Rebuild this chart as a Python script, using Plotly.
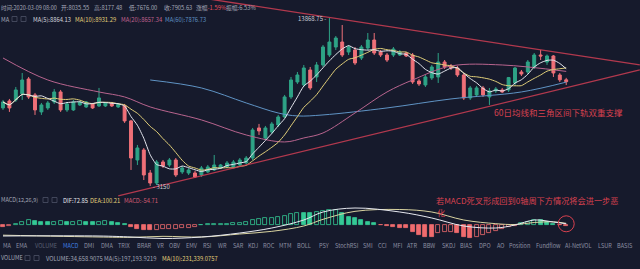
import numpy as np
import pandas as pd
import plotly.graph_objects as go

W, H = 640, 269
BG = "#161a2c"
UP = "#2ea386"
DOWN = "#ef7078"
FONT = "Noto Sans CJK SC, Noto Sans, sans-serif"

# ---- weekly BTC candles, 2018-07-02 .. 2020-03-09 ----
dates = pd.date_range("2018-07-02", periods=89, freq="7D")

opens = [6271, 6670, 6730, 7100, 8098, 7033, 6055, 6271, 6612, 7221,
         6162, 6162, 6439, 6327, 6496, 6383, 6383, 6554, 6327, 6383,
         5592, 3962, 4328, 3533, 3233, 3893, 3791, 3962, 3565, 3533,
         3533, 3471, 3565, 3628, 3693, 3725, 3725, 3791, 3859, 4032,
         5256, 4812, 5074, 5397, 5793, 6910, 7887, 7681, 8767, 8243,
         9162, 10006, 10737, 11222, 10274, 10457, 9745, 10643, 11421, 10274,
         10006, 10006, 10006, 10184, 10006, 7956, 7681, 8170, 8243, 9407,
         9081, 8923, 8389, 6849, 7033, 7481, 6910, 7285, 7350, 7350,
         7818, 8614, 8614, 9002, 10006, 9400, 9920, 8389, 8035.55]
highs = [6730, 6789, 7547, 8538, 8243, 7158, 6554, 6670, 7415, 7350,
         6612, 6730, 6670, 6670, 6554, 7481, 6612, 6612, 6554, 6496,
         5642, 4523, 4405, 3628, 3962, 3962, 4032, 4032, 3758, 3693,
         3597, 3758, 3791, 4141, 3825, 3927, 3962, 4032, 4104, 5256,
         5445, 5350, 5543, 5896, 7033, 8243, 8614, 9162, 9002, 9407,
         10929, 13868.75, 11831, 13039, 10929, 10737, 10929, 12148, 12148, 10457,
         10184, 10737, 10457, 10274, 10184, 8098, 8389, 9162, 10184, 9574,
         9243, 9081, 8538, 7614, 7614, 7614, 7481, 7547, 7481, 8243,
         9000, 8767, 9574, 10184, 10457, 10050, 10000, 8538, 8177.48]
lows = [6162, 6055, 6612, 6730, 6789, 5896, 5896, 6162, 6496, 6055,
        6055, 6108, 6383, 6271, 6216, 6327, 6327, 6327, 6271, 5494,
        3628, 3791, 3320, 3150, 3177, 3693, 3725, 3411, 3502, 3471,
        3381, 3411, 3533, 3597, 3660, 3693, 3693, 3758, 3825, 3962,
        4941, 4727, 4985, 5303, 5742, 6789, 7749, 7547, 7350, 7887,
        9002, 9831, 10457, 9831, 10006, 9162, 9574, 10457, 10006, 9831,
        9407, 9831, 9918, 9831, 7749, 7614, 7547, 8027, 7818, 8845,
        8767, 8243, 6730, 6730, 6910, 6910, 6439, 7158, 7158, 7221,
        7681, 8316, 8463, 8845, 9574, 9162, 8243, 7887, 7676.00]
closes = [6612, 6271, 7350, 8027, 6910, 6162, 6439, 6554, 7221, 6162,
          6496, 6612, 6612, 6612, 6271, 6849, 6554, 6383, 6496, 5592,
          4032, 4405, 3471, 3233, 3893, 3758, 3962, 3471, 3693, 3628,
          3411, 3693, 3725, 3791, 3791, 3859, 3893, 3962, 4032, 5164,
          5119, 5256, 5445, 5793, 6910, 8027, 8389, 8923, 7481, 9162,
          10737, 11222, 11624, 10006, 10737, 9325, 10737, 11421, 10184, 10006,
          9574, 10549, 10274, 9918, 7887, 7749, 8243, 9002, 9407, 9002,
          8923, 8389, 6849, 7481, 7481, 7033, 7285, 7415, 7221, 8200,
          8916.26, 8463, 9407, 10006, 9920, 9920, 8539.47, 8035.55, 7905.63]

# longer moving averages (candle index, price)
ma20_idx = [0, 7, 15, 19, 23, 31, 38, 44, 47, 50, 55, 60, 64, 70, 78, 88]
ma20_val = [9745, 8027, 7221, 6910, 6327, 5642, 4941, 4645, 4812, 5029,
            5998, 7221, 8027, 9081, 9162, 8657.34]
ma60_idx = [23, 31, 38, 43, 46, 50, 60, 70, 81, 88]
ma60_val = [8027, 7481, 6554, 5998, 5844, 5896, 6271, 6789, 7221, 7876.73]

# triangle trendlines (candle index, price)
upper_idx = [31, 99.5]
upper_val = [16560, 9162]
lower_idx = [18, 99.5]
lower_val = [2884, 8767]

# ---- MACD(12,26,9) ----
macd_hist = [-100, -60, 60, 200, 300, 250, 200, 180, 200, 220,
             180, 200, 220, 200, 180, 200, 220, 180, 150, 60,
             -120, -250, -300, -320, -300, -260, -240, -220, -200, -170,
             -130, 20, 40, 50, 60, 70, 100, 150, 200, 300,
             350, 400, 450, 500, 560, 650, 750, 720, 700, 780,
             850, 900, 920, 720, 500, 400, 300, 200, 100, -20,
             -50, -100, -150, -200, -400, -600, -700, -720, -500, -420,
             -400, -480, -700, -780, -700, -600, -500, -380, -250, -120,
             -30, 100, 200, 300, 280, 200, 80, -10, -54.71]
dif_idx = [0, 15, 20, 25, 31, 37, 42, 47, 50, 55, 62, 67, 72, 77, 80, 83, 86, 88]
dif_val = [-660, -660, -720, -810, -720, -480, -180, 300, 780, 1020,
           780, 420, -60, -180, 0, 300, 180, 72.85]
dea_val = [-610, -720, -740, -680, -720, -540, -380, -60, 340, 820,
           930, 780, 300, 80, 30, 150, 190, 100.21]

tabs = ["MA", "EMA", "VOLUME", "MACD", "DMI", "DMA", "TRIX", "BRAR", "VR", "OBV",
        "EMV", "RSI", "WR", "SAR", "KDJ", "ROC", "MTM", "BOLL", "PSY", "StochRSI",
        "SMI", "CCI", "MFI", "ATR", "BBW", "SKDJ", "BIAS", "DPO", "AO", "Position",
        "Fundflow", "AI-NetVOL", "LSUR", "BASIS"]

# ---------------------------------------------------------------------------
idx = np.arange(len(closes))
close_s = pd.Series(closes, dtype=float)
ma5 = close_s.rolling(5, min_periods=1).mean()
ma10 = close_s.rolling(10, min_periods=1).mean()

fig = go.Figure()

fig.add_trace(go.Candlestick(
    x=idx, open=opens, high=highs, low=lows, close=closes,
    increasing=dict(line=dict(color=UP, width=1), fillcolor=UP),
    decreasing=dict(line=dict(color=DOWN, width=1), fillcolor=DOWN),
    whiskerwidth=0, hoverinfo="skip", showlegend=False))

fig.add_trace(go.Scatter(x=ma60_idx, y=ma60_val, mode="lines",
                         line=dict(color="#5f93c4", width=1, shape="spline"), hoverinfo="skip"))
fig.add_trace(go.Scatter(x=ma20_idx, y=ma20_val, mode="lines",
                         line=dict(color="#b8648e", width=1, shape="spline"), hoverinfo="skip"))
fig.add_trace(go.Scatter(x=idx, y=ma10, mode="lines",
                         line=dict(color="#e2d07a", width=1, shape="spline", smoothing=0.6),
                         hoverinfo="skip"))
fig.add_trace(go.Scatter(x=idx, y=ma5, mode="lines",
                         line=dict(color="#e4e6ee", width=1, shape="spline", smoothing=0.6),
                         hoverinfo="skip"))

for xs, ys in ((upper_idx, upper_val), (lower_idx, lower_val)):
    fig.add_trace(go.Scatter(x=xs, y=ys, mode="lines",
                             line=dict(color="rgba(206,62,84,0.85)", width=1.3),
                             hoverinfo="skip"))

# MACD histogram: filled while falling, hollow while rising
bar_fill, bar_line = [], []
for i, v in enumerate(macd_hist):
    col = "#34c996" if v >= 0 else "#f06b6e"
    rising = i > 0 and v >= macd_hist[i - 1]
    bar_fill.append(BG if rising else col)
    bar_line.append(col)
fig.add_trace(go.Bar(x=idx, y=macd_hist, width=0.62, xaxis="x2", yaxis="y2",
                     marker=dict(color=bar_fill, line=dict(color=bar_line, width=0.8)),
                     hoverinfo="skip"))
fig.add_trace(go.Scatter(x=dif_idx, y=dea_val, mode="lines", xaxis="x2", yaxis="y2",
                         line=dict(color="#d9d3a0", width=1, shape="spline"), hoverinfo="skip"))
fig.add_trace(go.Scatter(x=dif_idx, y=dif_val, mode="lines", xaxis="x2", yaxis="y2",
                         line=dict(color="#e6e8ef", width=1, shape="spline"), hoverinfo="skip"))


def px(x):
    return x / W


def py(y):
    return 1 - y / H


def label(x, y, text, color, size=5.8, anchor="left"):
    return dict(x=px(x), y=py(y), xref="paper", yref="paper", text=text,
                showarrow=False, xanchor=anchor, yanchor="middle", borderpad=0,
                font=dict(size=size, color=color, family=FONT))


GREY = "#a3a7b7"
ann = []
last = len(closes) - 1
amp = (highs[last] - lows[last]) / lows[last] * 100
# header row
ann.append(label(0, 8, f"时间:{dates[last]:%Y-%m-%d} 08:00", GREY, size=5.5))
ann.append(label(60, 8, f"开:{opens[last]:.2f}", GREY))
ann.append(label(93, 8, f"高:{highs[last]:.2f}", GREY))
ann.append(label(128, 8, f"低:{lows[last]:.2f}", GREY))
ann.append(label(163, 8, f"收:{closes[last]:.2f}", GREY))
ann.append(label(195, 8, "涨幅<span style='color:#e4505c'>-1.59%</span>", GREY))
ann.append(label(225, 8, f"振幅:{amp:.2f}%", GREY))
# moving-average legend row
ann.append(label(0, 19, "MA", GREY))
ann.append(label(32, 19, "MA(5):8864.13", "#d4d6de"))
ann.append(label(74, 19, "MA(10):8931.29", "#e2d07a"))
ann.append(label(120, 19, "MA(20):8657.34", "#c0628f"))
ann.append(label(164, 19, "MA(60):7876.73", "#5f93c4"))
# MACD legend row
ann.append(label(0, 200, "MACD(12,26,9)", GREY, size=5.5))
ann.append(label(62, 200, f"DIF:{dif_val[-1]:.2f}", "#e6e8ef"))
ann.append(label(89, 200, f"DEA:{dea_val[-1]:.2f}", "#e2d07a"))
ann.append(label(123, 200, f"MACD:{macd_hist[-1]:.2f}", "#d25b72"))
# volume legend row
ann.append(label(0, 258, "VOLUME", GREY, size=5.5))
ann.append(label(45, 258, "VOLUME:34,658.9075", GREY))
ann.append(label(103, 258, "MA(5):197,193.9219", GREY))
ann.append(label(161, 258, "MA(10):231,339.0757", "#e2d07a"))

# indicator tab strip
tab_x = [2, 15, 34, 62, 83, 100, 117, 136, 156, 168, 185, 202, 217, 232, 247, 262, 278,
         296, 318, 334, 362, 377, 392, 406, 422, 441, 459, 478, 496, 508, 535, 564, 597, 616]
for name, x in zip(tabs, tab_x):
    col = "#3f7fe0" if name == "MACD" else ("#5b6073" if name == "VOLUME" else "#8c90a2")
    ann.append(label(x, 246, name, col, size=5.6))

# extreme markers on the candles
i_hi = int(np.argmax(highs))
i_lo = int(np.argmin(lows))
ann.append(dict(x=i_hi, y=np.log10(highs[i_hi]), xref="x", yref="y",
                text=f"{highs[i_hi]:.2f} -", showarrow=False, xanchor="right",
                yanchor="middle", xshift=-1, font=dict(size=6, color="#c9ccd6", family=FONT)))
ann.append(dict(x=i_lo, y=np.log10(lows[i_lo]), xref="x", yref="y",
                text=f"- {lows[i_lo]:.0f}", showarrow=False, xanchor="left",
                yanchor="middle", xshift=1, yshift=-1,
                font=dict(size=6, color="#c9ccd6", family=FONT)))

# commentary
RED = "#d8414f"
ann.append(dict(x=px(492), y=py(112), xref="paper", yref="paper",
                text="60日均线和三角区间下轨双重支撑", showarrow=False,
                xanchor="left", yanchor="middle", font=dict(size=8.5, color=RED, family=FONT)))
ann.append(label(435, 200, "若MACD死叉形成回到0轴周下方情况将会进一步恶", RED, size=8.2))
ann.append(label(436, 211.5, "化", RED, size=8.2))

shapes = []
for bx, by in ((12, 19), (21, 19), (43, 200), (52, 200), (25, 258), (34, 258)):
    shapes.append(dict(type="rect", xref="paper", yref="paper",
                       x0=px(bx), x1=px(bx + 5), y0=py(by + 2.5), y1=py(by - 2.5),
                       line=dict(color="#4c5266", width=0.8)))
shapes.append(dict(type="circle", xref="x", yref="y2",
                   xsizemode="pixel", ysizemode="pixel",
                   xanchor=last, yanchor=dif_val[-1],
                   x0=-8, x1=8, y0=-8, y1=8,
                   line=dict(color=RED, width=1)))

fig.update_layout(
    width=W, height=H, margin=dict(l=0, r=0, t=0, b=0),
    paper_bgcolor=BG, plot_bgcolor=BG, showlegend=False,
    boxgap=0.35, bargap=0,
    xaxis=dict(domain=[0, 1], range=[-0.47, 99.53], visible=False,
               rangeslider=dict(visible=False), anchor="y"),
    yaxis=dict(domain=[py(197), 1], type="log",
               range=[np.log10(2858), np.log10(16256)], visible=False),
    xaxis2=dict(domain=[0, 1], range=[-0.47, 99.53], visible=False,
                anchor="y2", matches="x"),
    yaxis2=dict(domain=[py(240), py(203)], range=[-900, 1320], visible=False),
    annotations=ann, shapes=shapes,
)

fig.write_html("out.html", config={"displayModeBar": False})
